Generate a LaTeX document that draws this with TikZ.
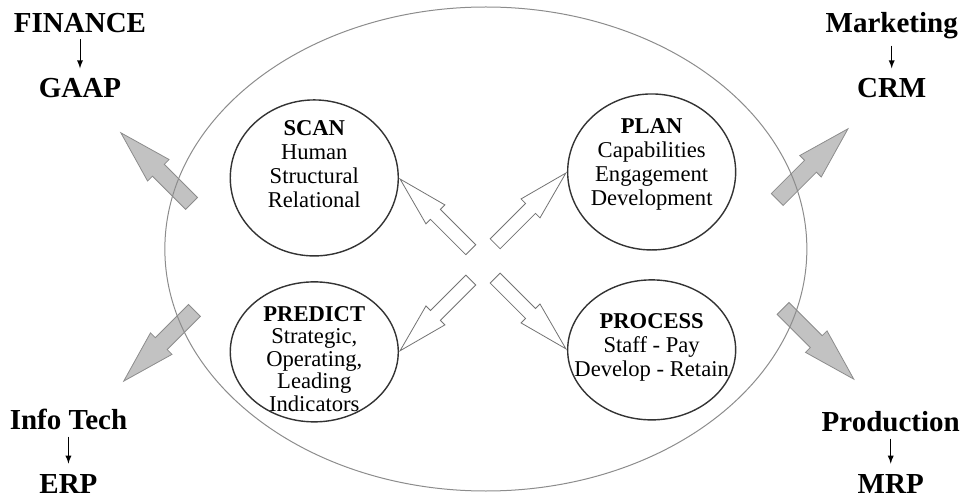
\documentclass[tikz,border=0pt]{standalone}
\usepackage{fontspec}
\setmainfont{Liberation Serif}
\usepackage{tikz}
\usetikzlibrary{arrows,shapes.arrows,shapes.geometric,positioning,calc}
\pgfdeclarelayer{bg}
\pgfsetlayers{bg,main}
\definecolor{rimgray}{gray}{0.55}
\definecolor{shadegray}{gray}{0.76}
\tikzset{
  dept/.style={font=\fontsize{14.5}{17}\selectfont\bfseries, inner sep=2pt, anchor=base},
  stage/.style={ellipse, draw=black!80, line width=.7pt, minimum width=84pt, minimum height=78pt, inner sep=0pt},
  stagetext/.style={align=center, font=\fontsize{11.3}{12}\selectfont, inner sep=0pt},
  hollow/.style={single arrow, draw=black!55, line width=.4pt, fill=white, minimum height=50pt,
    inner xsep=0pt, inner ysep=3.3pt, single arrow head extend=3.2pt, single arrow tip angle=30},
  shaded/.style={hollow, fill=shadegray, draw=black!45, inner ysep=4pt, single arrow head extend=3.4pt,
    single arrow tip angle=32},
  flow/.style={-latex, thin, shorten <=1pt, shorten >=3pt}
}

\begin{document}
\begin{tikzpicture}[x = 482pt, y = -248.5pt]
\useasboundingbox (0,0) rectangle (1,1);

% outward arrows sit under the ring
\begin{pgfonlayer}{bg}
\node[shaded, rotate=135, anchor=tail] (outfin) at (.199, .410) {};
\node[shaded, rotate=45, anchor=tail] (outmkt) at (.806, .402) {};
\node[shaded, rotate=225, anchor=tail] (outit) at (.202, .624) {};
\node[shaded, rotate=-45, anchor=tail] (outprod) at (.812, .620) {};
\end{pgfonlayer}

\node[ellipse, draw=rimgray, line width=.5pt, minimum width=321pt, minimum height=242pt] (ring) at (.504, .501) {};

% the four stages
\node[stage] (scan) at (.326, .358) {};
\node[stage] (plan) at (.676, .346) {};
\node[stage, minimum height=70pt] (predict) at (.326, .708) {};
\node[stage, minimum height=70pt] (process) at (.676, .704) {};

\node[stagetext] (scantext) at (.326, .330) {\textbf{SCAN}\\Human\\Structural\\Relational};
\node[stagetext] (plantext) at (.676, .330) {\textbf{PLAN}\\Capabilities\\Engagement\\Development};
\node[stagetext, font=\fontsize{11.3}{11.3}\selectfont] (predicttext) at (.326, .722) {\textbf{PREDICT}\\Strategic,\\Operating,\\Leading\\Indicators};
\node[stagetext] (processtext) at (.676, .700) {\textbf{PROCESS}\\Staff - Pay\\Develop - Retain};

% hollow arrows from the middle
\node[hollow, rotate=135, anchor=tip] (toscan) at (scan.east) {};
\node[hollow, rotate=45, anchor=tip] (toplan) at (plan.west) {};
\node[hollow, rotate=225, anchor=tip] (topredict) at (predict.east) {};
\node[hollow, rotate=-45, anchor=tip] (toprocess) at (process.west) {};

% functions in the corners
\node[dept] (fin) at (.083, .066) {FINANCE};
\node[dept] (gaap) at (.083, .197) {GAAP};
\node[dept] (mkt) at (.925, .066) {Marketing};
\node[dept] (crm) at (.925, .197) {CRM};
\node[dept] (it) at (.071, .865) {Info Tech};
\node[dept] (erp) at (.071, .992) {ERP};
\node[dept] (prod) at (.924, .869) {Production};
\node[dept] (mrp) at (.924, .992) {MRP};

\draw[flow] (fin) -- (gaap);
\draw[flow] (mkt) -- (crm);
\draw[flow] (it) -- (erp);
\draw[flow] (prod) -- (mrp);

\end{tikzpicture}
\end{document}
